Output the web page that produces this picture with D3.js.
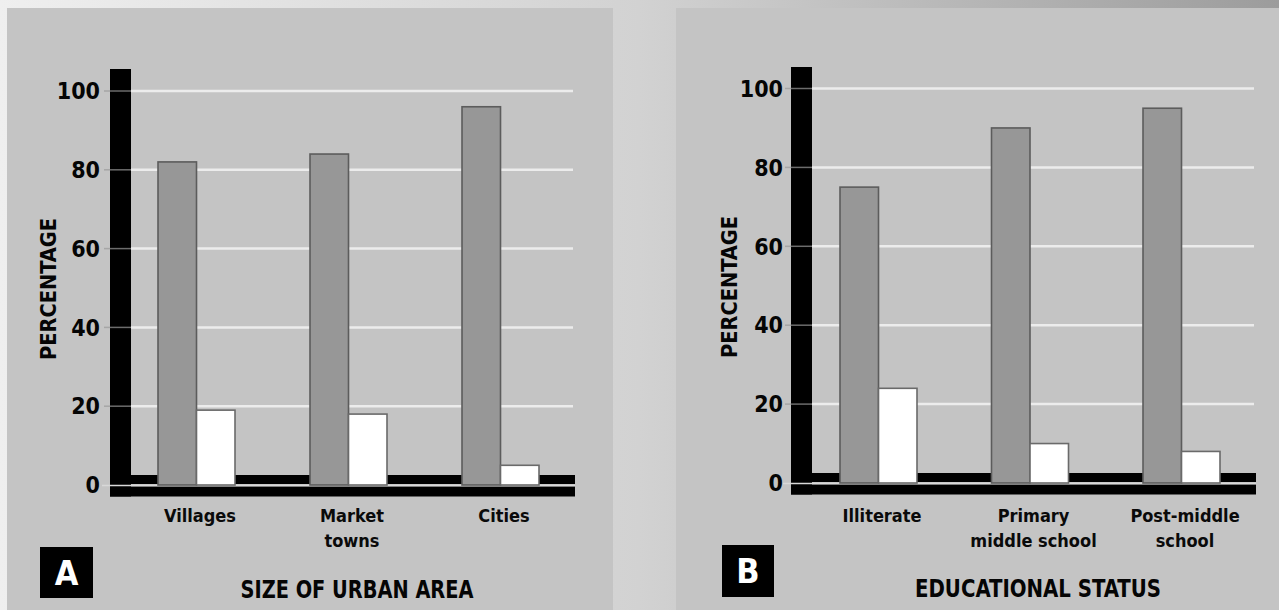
<!DOCTYPE html>
<html>
<head>
<meta charset="utf-8">
<script src="https://cdn.jsdelivr.net/npm/d3@7/dist/d3.min.js"></script>
<style>
  html, body { margin: 0; padding: 0; background: #d0d0d0; }
  svg { display: block; }
</style>
</head>
<body>
<svg id="chart" width="1279" height="610"></svg>
<script>
// ---------------- DATA ----------------
const categoriesA = ["Villages", "Market towns", "Cities"];
const grayValuesA = [82, 84, 96];
const whiteValuesA = [19, 18, 5];

const categoriesB = ["Illiterate", "Primary middle school", "Post-middle school"];
const grayValuesB = [75, 90, 95];
const whiteValuesB = [24, 10, 8];

const yTicks = [0, 20, 40, 60, 80, 100];
const seriesKeys = ["gray", "white"];
const yAxisTitle = "PERCENTAGE";
const titleA = "SIZE OF URBAN AREA";
const titleB = "EDUCATIONAL STATUS";

// category label lines (how each label is broken in the picture)
const labelLinesA = [["Villages"], ["Market", "towns"], ["Cities"]];
const labelLinesB = [["Illiterate"], ["Primary", "middle school"], ["Post-middle", "school"]];

// ---------------- LAYOUT ----------------
const W = 1279, H = 610;
const FONT = "'DejaVu Sans Condensed', 'DejaVu Sans', sans-serif";
const svg = d3.select("#chart");

// background gradient (top strip / margins / gap)
const defs = svg.append("defs");
const grad = defs.append("linearGradient").attr("id", "bg").attr("x1", "0").attr("x2", "1").attr("y1", "0").attr("y2", "0");
grad.append("stop").attr("offset", "0").attr("stop-color", "#efefef");
grad.append("stop").attr("offset", "0.5").attr("stop-color", "#d2d2d2");
grad.append("stop").attr("offset", "1").attr("stop-color", "#9c9c9c");
svg.append("rect").attr("x", 0).attr("y", 0).attr("width", W).attr("height", H).attr("fill", "url(#bg)");

const panels = [
  {
    letter: "A", title: titleA, categories: categoriesA, gray: grayValuesA, white: whiteValuesA, lines: labelLinesA,
    bg: [7, 8, 606, 602], axisX0: 110, axisX1: 131, axisTop: 69, endX: 575,
    y0: 485, y100: 91, xRange: [121, 577], tickRight: 100, ytitleX: 48, ytitleY: 289,
    titleX: 357, titleY: 589, titleLen: 233, box: [40, 547, 53, 51]
  },
  {
    letter: "B", title: titleB, categories: categoriesB, gray: grayValuesB, white: whiteValuesB, lines: labelLinesB,
    bg: [676, 8, 603, 602], axisX0: 791, axisX1: 812, axisTop: 67, endX: 1256,
    y0: 483, y100: 88.5, xRange: [803.25, 1257.75], tickRight: 783, ytitleX: 729, ytitleY: 287,
    titleX: 1038, titleY: 588, titleLen: 246, box: [722, 545, 52, 52]
  }
];

panels.forEach(p => {
  const g = svg.append("g");
  // panel background
  g.append("rect").attr("x", p.bg[0]).attr("y", p.bg[1]).attr("width", p.bg[2]).attr("height", p.bg[3]).attr("fill", "#c4c4c4");

  const y = d3.scaleLinear().domain([0, 100]).range([p.y0, p.y100]);
  const x = d3.scaleBand().domain(p.categories).range(p.xRange).padding(0);
  const x1 = d3.scaleBand().domain(seriesKeys).range([-39, 38]).padding(0);

  // gridlines
  g.append("g").selectAll("line").data(yTicks.filter(t => t > 0)).join("line")
    .attr("x1", p.axisX1).attr("x2", p.endX - 2)
    .attr("y1", d => y(d)).attr("y2", d => y(d))
    .attr("stroke", "#ececec").attr("stroke-width", 2.5);

  // black baseline (upper band and lower band)
  g.append("rect").attr("x", p.axisX0).attr("y", y(0) - 10).attr("width", p.endX - p.axisX0).attr("height", 9).attr("fill", "#000");
  g.append("rect").attr("x", p.axisX0).attr("y", y(0) + 1.5).attr("width", p.endX - p.axisX0).attr("height", 10).attr("fill", "#000");
  // black vertical axis bar
  g.append("rect").attr("x", p.axisX0).attr("y", p.axisTop).attr("width", p.axisX1 - p.axisX0).attr("height", y(0) + 11.5 - p.axisTop).attr("fill", "#000");

  // faint gridline traces across the black bar
  g.append("g").selectAll("line").data(yTicks.filter(t => t > 0)).join("line")
    .attr("x1", p.axisX0 - 6).attr("x2", p.axisX1)
    .attr("y1", d => y(d)).attr("y2", d => y(d))
    .attr("stroke", "#9a9a9a").attr("stroke-width", 1.5).attr("opacity", 0.7);
  // zero line
  g.append("line").attr("x1", p.axisX0 - 8).attr("x2", p.endX)
    .attr("y1", y(0) + 0.5).attr("y2", y(0) + 0.5)
    .attr("stroke", "#d8d8d8").attr("stroke-width", 1.5);

  // bars
  const rows = p.categories.map((c, i) => ({ cat: c, gray: p.gray[i], white: p.white[i] }));
  const grp = g.append("g").selectAll("g").data(rows).join("g")
    .attr("transform", d => `translate(${x(d.cat) + x.bandwidth() / 2},0)`);
  grp.selectAll("rect").data(d => seriesKeys.map(k => ({ key: k, value: d[k] }))).join("rect")
    .attr("x", d => x1(d.key))
    .attr("width", x1.bandwidth())
    .attr("y", d => y(d.value))
    .attr("height", d => y(0) - y(d.value))
    .attr("fill", d => d.key === "gray" ? "#979797" : "#ffffff")
    .attr("stroke", d => d.key === "gray" ? "#5c5c5c" : "#6a6a6a")
    .attr("stroke-width", 1.6);

  // y tick labels
  g.append("g").selectAll("text").data(yTicks).join("text")
    .attr("x", p.tickRight).attr("y", d => y(d)).attr("dy", "0.36em")
    .attr("text-anchor", "end")
    .attr("font-family", FONT).attr("font-weight", "bold").attr("font-size", 23)
    .attr("fill", "#050505").text(d => d);

  // y-axis title
  g.append("text")
    .attr("transform", `translate(${p.ytitleX},${p.ytitleY}) rotate(-90)`)
    .attr("text-anchor", "middle").attr("dy", "0.36em")
    .attr("font-family", FONT).attr("font-weight", "bold").attr("font-size", 21)
    .attr("textLength", 142).attr("lengthAdjust", "spacingAndGlyphs")
    .attr("fill", "#050505").text(yAxisTitle);

  // category labels
  const lab = g.append("g").selectAll("text").data(rows).join("text")
    .attr("x", d => x(d.cat) + x.bandwidth() / 2 + 3)
    .attr("y", 516)
    .attr("text-anchor", "middle")
    .attr("font-family", FONT).attr("font-weight", "bold").attr("font-size", 18)
    .attr("fill", "#0a0a0a");
  lab.each(function (d, i) {
    const t = d3.select(this);
    p.lines[i].forEach((ln, j) => {
      t.append("tspan").attr("x", x(d.cat) + x.bandwidth() / 2 + 3)
        .attr("y", 516 + j * 25).attr("dy", "0.36em").text(ln);
    });
  });

  // letter box
  g.append("rect").attr("x", p.box[0]).attr("y", p.box[1]).attr("width", p.box[2]).attr("height", p.box[3]).attr("fill", "#000");
  g.append("text").attr("x", p.box[0] + p.box[2] / 2).attr("y", p.box[1] + p.box[3] / 2).attr("dy", "0.36em")
    .attr("text-anchor", "middle").attr("font-family", FONT).attr("font-weight", "bold").attr("font-size", 34)
    .attr("fill", "#fff").text(p.letter);

  // panel title
  g.append("text").attr("x", p.titleX).attr("y", p.titleY).attr("dy", "0.36em")
    .attr("text-anchor", "middle").attr("font-family", FONT).attr("font-weight", "bold").attr("font-size", 25)
    .attr("textLength", p.titleLen).attr("lengthAdjust", "spacingAndGlyphs")
    .attr("fill", "#050505").text(p.title);
});
</script>
</body>
</html>
